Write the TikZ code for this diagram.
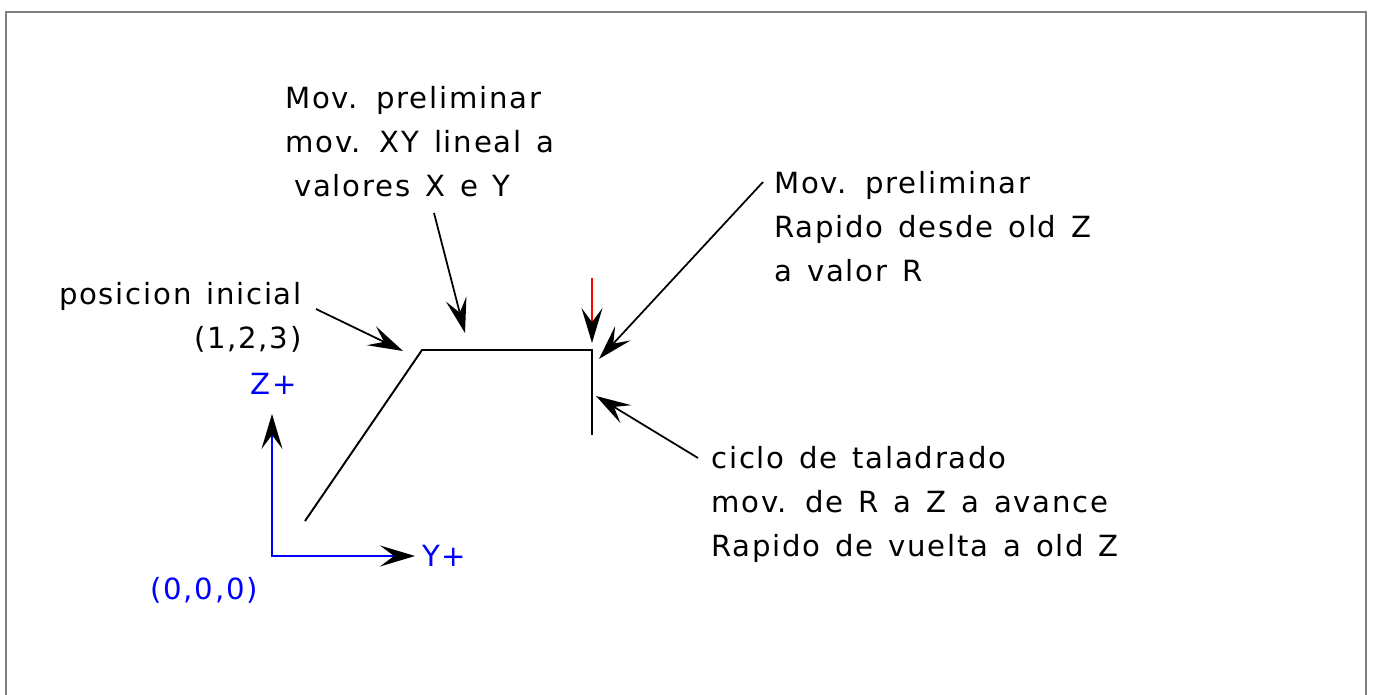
\documentclass[tikz,border=0pt]{standalone}
\usepackage{fontspec}
\setmainfont{DejaVu Sans}[LetterSpace=6,WordSpace=1.35]
\usetikzlibrary{arrows.meta}
\definecolor{axisblue}{RGB}{0,0,255}
\definecolor{framegray}{RGB}{128,128,128}

\begin{document}
\begin{tikzpicture}[x=0.02cm,y=-0.02cm,line join=miter,
  >={Stealth[length=7mm,width=4.2mm,inset=2.8mm,color=black]},
  lbl/.style={inner sep=0pt,font=\fontsize{16.6}{25}\selectfont}]
  \useasboundingbox (0,0) rectangle (1373,695);
  % frame, open at the bottom
  \draw[framegray,line width=1.1pt] (6,695) -- (6,12) -- (1366,12) -- (1366,695);
  % tool path: start point, XY move, rapid to R, feed to Z
  \coordinate (p0) at (305,521); \coordinate (p1) at (422,350);
  \coordinate (p2) at (592,350); \coordinate (p3) at (592,435);
  \draw[line width=1.1pt] (p0) -- (p1) -- (p2) -- (p3);
  % axes
  \coordinate (o) at (272,556); \coordinate (zt) at (272,414); \coordinate (yt) at (415,556);
  \draw[axisblue,line width=1.1pt,<->] (zt) -- (o) -- (yt);
  \node[lbl,text=axisblue,anchor=base west] (zlab) at (250,395) {Z+};
  \node[lbl,text=axisblue,anchor=base west] (ylab) at (422,567) {Y+};
  \node[lbl,text=axisblue,anchor=base west] (origen) at (150,600) {(0,0,0)};
  % labels
  \node[lbl,anchor=north east,align=right] (posini) at (302,282) {posicion inicial\\(1,2,3)};
  \node[lbl,anchor=north west,align=left] (movxy) at (285,86) {Mov. preliminar\\mov. XY lineal a\\\hspace*{1.8mm}valores X e Y};
  \node[lbl,anchor=north west,align=left] (movz) at (774,171) {Mov. preliminar\\Rapido desde old Z\\a valor R};
  \node[lbl,anchor=north west,align=left] (ciclo) at (711,446) {ciclo de taladrado\\mov. de R a Z a avance\\Rapido de vuelta a old Z};
  % pointers
  \coordinate (a1) at (316,309); \coordinate (a1t) at (403,351);
  \coordinate (a2) at (434,213); \coordinate (a2t) at (465,333);
  \coordinate (a3) at (763,182); \coordinate (a3t) at (599,359);
  \coordinate (a4) at (698,458); \coordinate (a4t) at (596,396);
  \coordinate (r0) at (592,278); \coordinate (rt) at (592,343);
  \foreach \s/\t in {a1/a1t,a2/a2t,a3/a3t,a4/a4t}{\draw[line width=1pt,->] (\s) -- (\t);}
  \draw[red,line width=0.9pt,->] (r0) -- (rt);
\end{tikzpicture}
\end{document}
